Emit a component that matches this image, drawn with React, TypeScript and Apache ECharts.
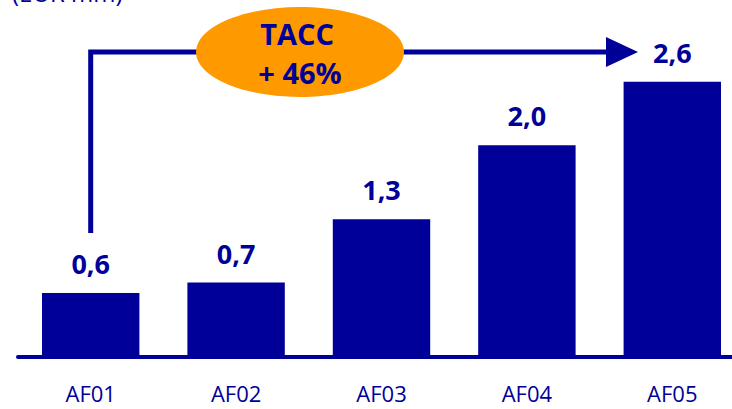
import React, { useEffect, useRef } from "react";
import * as echarts from "echarts";

const categories = ["AF01", "AF02", "AF03", "AF04", "AF05"];
const values = [0.6, 0.7, 1.3, 2.0, 2.6];
const unitLabel = "(EUR mm)";
const growthLines = ["TACC", "+ 46%"];

const NAVY = "#000099";
const ORANGE = "#FF9900";
const FONT = "'Open Sans', 'Noto Sans', sans-serif";

export default function App() {
  const ref = useRef<HTMLDivElement>(null);
  useEffect(() => {
    document.body.style.margin = "0";
    document.body.style.overflow = "hidden";
    const chart = echarts.init(ref.current!, null, { renderer: "svg" });
    chart.setOption({
      animation: false,
      grid: { left: 18, right: 0, top: 39.5, bottom: 52.5 },
      xAxis: {
        type: "category",
        data: categories,
        axisLine: { lineStyle: { color: NAVY, width: 4 } },
        axisTick: { show: false },
        axisLabel: { color: NAVY, fontSize: 22, fontFamily: FONT, margin: 25 },
      },
      yAxis: {
        type: "value",
        min: 0,
        max: 3,
        show: false,
        splitLine: { show: false },
      },
      series: [
        {
          type: "bar",
          data: values,
          barCategoryGap: "33%",
          itemStyle: { color: NAVY },
          label: {
            show: true,
            position: "top",
            distance: 16,
            color: NAVY,
            fontSize: 27,
            fontWeight: "bold",
            fontFamily: FONT,
            formatter: (p: any) => p.value.toFixed(1).replace(".", ","),
          },
        },
      ],
    });

    const x0 = chart.convertToPixel({ xAxisIndex: 0 }, categories[0]) as number;
    const yBase0 = chart.convertToPixel({ yAxisIndex: 0 }, values[0]) as number;
    const lineY = 52;
    const arrowTip = 638;
    chart.setOption({
      graphic: [
        {
          type: "text",
          left: 12,
          top: -20,
          style: { text: unitLabel, fill: NAVY, fontSize: 24, fontFamily: FONT },
        },
        {
          type: "polyline",
          shape: { points: [[x0, yBase0 - 60], [x0, lineY], [arrowTip - 30, lineY]] },
          style: { stroke: NAVY, lineWidth: 5, fill: "none" },
        },
        {
          type: "polygon",
          shape: { points: [[arrowTip - 32, lineY - 15], [arrowTip, lineY], [arrowTip - 32, lineY + 15]] },
          style: { fill: NAVY },
        },
        {
          type: "ellipse",
          shape: { cx: 300, cy: lineY, rx: 104, ry: 45 },
          style: { fill: ORANGE },
        },
        {
          type: "text",
          x: 297,
          y: 33,
          style: {
            text: growthLines[0],
            fill: NAVY,
            fontSize: 29,
            fontWeight: "bold",
            fontFamily: FONT,
            align: "center",
            verticalAlign: "middle",
          },
        },
        {
          type: "text",
          x: 300,
          y: 72,
          style: {
            text: growthLines[1],
            fill: NAVY,
            fontSize: 29,
            fontWeight: "bold",
            fontFamily: FONT,
            align: "center",
            verticalAlign: "middle",
          },
        },
      ],
    });
    return () => chart.dispose();
  }, []);
  return <div ref={ref} style={{ width: 745, height: 409 }} />;
}
